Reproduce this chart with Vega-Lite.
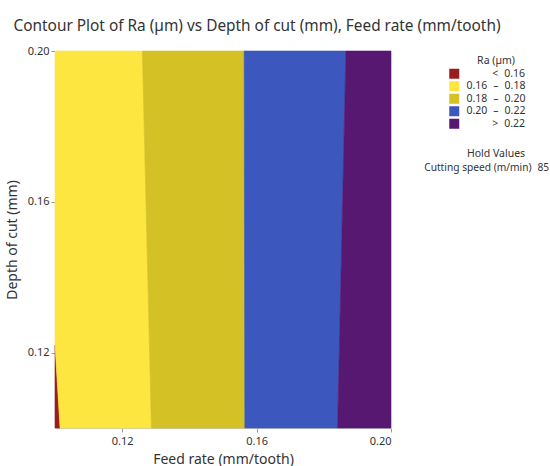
{
  "$schema": "https://vega.github.io/schema/vega-lite/v6.json",
  "width": 336,
  "height": 377,
  "autosize": {"type": "none"},
  "padding": {"left": 55, "top": 51, "right": 159, "bottom": 38},
  "background": "white",
  "title": {
    "text": "Contour Plot of Ra (µm) vs Depth of cut (mm), Feed rate (mm/tooth)",
    "font": "Noto Sans",
    "fontSize": 15.4,
    "fontWeight": "normal",
    "color": "#333333",
    "anchor": "middle",
    "dx": 34,
    "offset": 11
  },
  "config": {
    "view": {"stroke": null},
    "font": "Noto Sans",
    "axis": {
      "grid": false,
      "domainColor": "#c8c8c8",
      "tickColor": "#9a9a9a",
      "tickSize": 4,
      "labelFont": "Noto Sans",
      "labelFontSize": 11,
      "labelColor": "#333333",
      "titleFont": "Noto Sans",
      "titleFontSize": 14,
      "titleFontWeight": "normal",
      "titleColor": "#333333"
    }
  },
  "layer": [
    {
      "data": {
        "values": [
          {"band": "< 0.16", "depth": 0.10, "x_lo": 0.10, "x_hi": 0.1015},
          {"band": "< 0.16", "depth": 0.122, "x_lo": 0.10, "x_hi": 0.10},
          {"band": "0.16 – 0.18", "depth": 0.10, "x_lo": 0.1015, "x_hi": 0.1287},
          {"band": "0.16 – 0.18", "depth": 0.122, "x_lo": 0.10, "x_hi": 0.1281},
          {"band": "0.16 – 0.18", "depth": 0.20, "x_lo": 0.10, "x_hi": 0.126},
          {"band": "0.18 – 0.20", "depth": 0.10, "x_lo": 0.1287, "x_hi": 0.1565},
          {"band": "0.18 – 0.20", "depth": 0.20, "x_lo": 0.126, "x_hi": 0.1563},
          {"band": "0.20 – 0.22", "depth": 0.10, "x_lo": 0.1565, "x_hi": 0.1841},
          {"band": "0.20 – 0.22", "depth": 0.20, "x_lo": 0.1563, "x_hi": 0.1866},
          {"band": "> 0.22", "depth": 0.10, "x_lo": 0.1841, "x_hi": 0.20},
          {"band": "> 0.22", "depth": 0.20, "x_lo": 0.1866, "x_hi": 0.20}
        ]
      },
      "mark": {"type": "area", "orient": "horizontal", "strokeWidth": 0.6},
      "encoding": {
        "y": {
          "field": "depth",
          "type": "quantitative",
          "scale": {"domain": [0.10, 0.20], "nice": false, "zero": false},
          "axis": {
            "title": "Depth of cut (mm)",
            "values": [0.12, 0.16, 0.20],
            "format": ".2f",
            "titlePadding": 8
          }
        },
        "x": {
          "field": "x_lo",
          "type": "quantitative",
          "scale": {"domain": [0.10, 0.20], "nice": false, "zero": false},
          "axis": {
            "title": "Feed rate (mm/tooth)",
            "values": [0.12, 0.16, 0.20],
            "format": ".2f",
            "labelPadding": 3,
            "titlePadding": 6
          }
        },
        "x2": {"field": "x_hi"},
        "color": {
          "field": "band",
          "type": "nominal",
          "scale": {
            "domain": ["< 0.16", "0.16 – 0.18", "0.18 – 0.20", "0.20 – 0.22", "> 0.22"],
            "range": ["#9b1c1c", "#fde63f", "#d4c125", "#3c57bd", "#561870"]
          },
          "legend": {
            "title": "\u200b\u2007\u2007\u2007Ra (µm)",
            "orient": "none",
            "legendX": 394,
            "legendY": 5,
            "padding": 0,
            "titleAnchor": "middle",
            "titleFontSize": 10.5,
            "titleFontWeight": "normal",
            "titleColor": "#333333",
            "titlePadding": 2,
            "labelFontSize": 10.5,
            "labelColor": "#333333",
            "labelOffset": 7,
            "symbolType": "square",
            "symbolSize": 100,
            "symbolStrokeWidth": 0,
            "rowPadding": 1.5,
            "labelExpr": "datum.label == '< 0.16' ? '\u200b\u2007\u2007\u2007\u2007\u2009<\u20070.16' : datum.label == '> 0.22' ? '\u200b\u2007\u2007\u2007\u2007\u2009>\u20070.22' : replace(datum.label, ' – ', '\u2007–\u2007')"
          }
        },
        "stroke": {
          "field": "band",
          "type": "nominal",
          "scale": {
            "domain": ["< 0.16", "0.16 – 0.18", "0.18 – 0.20", "0.20 – 0.22", "> 0.22"],
            "range": ["#9b1c1c", "#fde63f", "#d4c125", "#3c57bd", "#561870"]
          },
          "legend": null
        }
      }
    },
    {
      "data": {"values": [{"hold": "Cutting speed (m/min)\u200785", "depth": 0.15, "x_lo": 0.15}]},
      "mark": {"type": "point", "opacity": 0},
      "encoding": {
        "x": {"field": "x_lo", "type": "quantitative"},
        "y": {"field": "depth", "type": "quantitative"},
        "shape": {
          "field": "hold",
          "type": "nominal",
          "legend": {
            "title": "\u200b\u2007\u2007\u2007Hold Values",
            "orient": "none",
            "legendX": 369,
            "legendY": 98,
            "padding": 0,
            "titleAnchor": "middle",
            "titleFontSize": 10.5,
            "titleFontWeight": "normal",
            "titleColor": "#333333",
            "titlePadding": 3,
            "labelFontSize": 10.2,
            "labelColor": "#333333",
            "labelLimit": 200,
            "symbolSize": 0,
            "symbolOpacity": 0,
            "symbolStrokeWidth": 0,
            "labelOffset": -10
          }
        }
      }
    }
  ]
}
